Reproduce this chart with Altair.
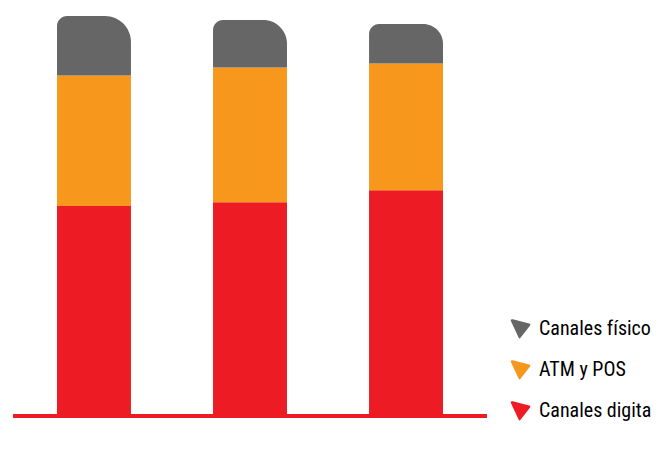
import altair as alt
import pandas as pd

years = ["2020", "2021", "2022"]
canales = ["Canales digitales", "ATM y POS", "Canales físicos"]  # bottom -> top
digitales = [53, 54, 57]
atm_pos = [33, 34, 32]
fisicos = [15, 12, 10]
highlight_year = "2022"

legend_order = ["Canales físicos", "ATM y POS", "Canales digitales"]
legend_colors = ["#666666", "#F7981D", "#ED1C24"]

rows = []
for i, yr in enumerate(years):
    for k, (c, vals) in enumerate(zip(canales, [digitales, atm_pos, fisicos])):
        rows.append({"year": yr, "canal": c, "orden": k, "value": vals[i]})
df = pd.DataFrame(rows)
df_years = pd.DataFrame({"year": years})

FONT = "Liberation Sans Narrow, Roboto Condensed, DejaVu Sans Condensed, sans-serif"
HALF_BAND = 37

base = (
    alt.Chart(df)
    .transform_stack(
        stack="value", as_=["y0", "y1"], groupby=["year"],
        sort=[alt.SortField("orden", order="ascending")],
    )
    .transform_calculate(mid="(datum.y0 + datum.y1) / 2")
)

x_enc = alt.X(
    "year:N",
    sort=years,
    title=None,
    scale=alt.Scale(paddingInner=0.526, paddingOuter=0.282),
    axis=None,
)
y_scale = alt.Scale(domain=[0, 101], nice=False, zero=True)

shape = "M-0.95,-0.75 Q-1,-0.95 -0.75,-0.9 L0.85,-0.5 Q1.05,-0.45 0.9,-0.25 L0.0,0.9 Q-0.12,1.05 -0.2,0.85 Z"

color_enc = alt.Color(
    "canal:N",
    scale=alt.Scale(domain=legend_order, range=legend_colors),
    legend=alt.Legend(
        title=None, orient="none", legendX=497, legendY=302,
        symbolType=shape, symbolSize=420, symbolStrokeWidth=0,
        labelFont=FONT, labelFontSize=20, labelColor="#000000",
        labelOffset=8, rowPadding=20,
    ),
)

bars_low = base.transform_filter("datum.orden < 2").mark_bar().encode(
    x=x_enc,
    y=alt.Y("y0:Q", scale=y_scale, axis=None),
    y2="y1:Q",
    color=color_enc,
)
bars_top = base.transform_filter("datum.orden == 2").mark_bar(
    cornerRadiusTopLeft=10, cornerRadiusTopRight=26
).encode(
    x=x_enc,
    y=alt.Y("y0:Q", scale=y_scale, axis=None),
    y2="y1:Q",
    color=color_enc,
)

baseline = alt.Chart(df_years).mark_rule(color="#ED1C24", strokeWidth=4).encode(
    y=alt.datum(0)
)

chart = alt.layer(bars_low, bars_top, baseline).properties(
    width=474, height=400,
    autosize=alt.AutoSizeParams(type="none"),
    padding={"left": 5, "top": 8, "right": 165, "bottom": 50},
).configure_view(stroke=None)

chart.save("out.html", embed_options={"renderer": "svg", "actions": False})
